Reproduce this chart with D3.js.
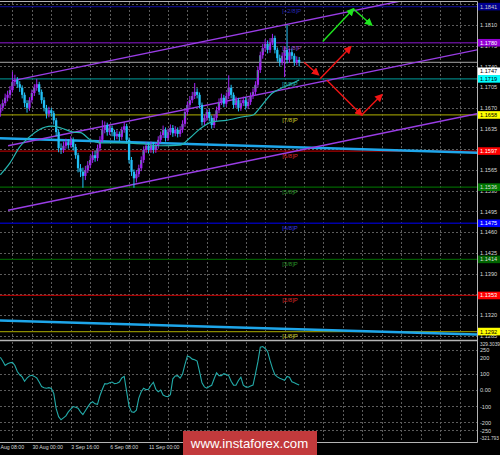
<!DOCTYPE html>
<html><head><meta charset="utf-8">
<script src="https://cdn.jsdelivr.net/npm/d3@7/dist/d3.min.js"></script>
<style>
html,body{margin:0;padding:0;background:#000;}
svg{display:block;}
text{font-family:"Liberation Sans",Arial,sans-serif;}
</style></head><body>
<svg id="chart" width="500" height="455"></svg>
<script>
// ---------- DATA ----------
const firstBar = 3;          // bar index of first visible candle (index 0 = 27 Aug 08:00, 4H bars)
const firstOpen = 1.1662;
const closes = [
1.1670,1.1678,1.1687,1.1692,1.1700,1.1714,1.1717,1.1710,1.1704,1.1692,
1.1678,1.1670,1.1683,1.1695,1.1704,1.1710,1.1697,1.1683,1.1670,1.1660,
1.1666,1.1661,1.1649,1.1629,1.1602,1.1599,1.1606,1.1612,1.1607,1.1616,
1.1604,1.1590,1.1568,1.1562,1.1555,1.1565,1.1573,1.1582,1.1590,1.1585,
1.1602,1.1616,1.1633,1.1641,1.1629,1.1636,1.1629,1.1622,1.1626,1.1621,
1.1633,1.1639,1.1616,1.1582,1.1562,1.1551,1.1558,1.1568,1.1582,1.1599,
1.1606,1.1599,1.1607,1.1599,1.1606,1.1616,1.1624,1.1633,1.1619,1.1629,
1.1636,1.1627,1.1633,1.1626,1.1633,1.1643,1.1663,1.1675,1.1683,1.1690,
1.1697,1.1692,1.1675,1.1646,1.1653,1.1663,1.1653,1.1641,1.1653,1.1666,
1.1680,1.1687,1.1677,1.1690,1.1704,1.1692,1.1675,1.1683,1.1670,1.1678,
1.1683,1.1673,1.1680,1.1690,1.1697,1.1709,1.1734,1.1759,1.1771,1.1778,
1.1768,1.1781,1.1788,1.1768,1.1754,1.1747,1.1758,1.1768,1.1751,1.1764,
1.1758,1.1747,1.1751,1.1747];
const highs = [
1.1676,1.1684,1.1694,1.1699,1.1707,1.1731,1.1726,1.1722,1.1715,1.1708,
1.1696,1.1683,1.1688,1.1701,1.1710,1.1719,1.1714,1.1701,1.1688,1.1675,
1.1672,1.1670,1.1665,1.1653,1.1634,1.1610,1.1613,1.1618,1.1617,1.1622,
1.1620,1.1609,1.1594,1.1575,1.1569,1.1572,1.1580,1.1589,1.1597,1.1598,
1.1608,1.1622,1.1649,1.1647,1.1645,1.1642,1.1640,1.1633,1.1632,1.1630,
1.1638,1.1646,1.1643,1.1620,1.1587,1.1566,1.1565,1.1574,1.1588,1.1605,
1.1612,1.1611,1.1613,1.1612,1.1611,1.1622,1.1630,1.1640,1.1637,1.1635,
1.1642,1.1641,1.1639,1.1637,1.1639,1.1649,1.1669,1.1681,1.1690,1.1697,
1.1712,1.1703,1.1696,1.1679,1.1659,1.1669,1.1668,1.1657,1.1659,1.1672,
1.1686,1.1694,1.1692,1.1696,1.1725,1.1709,1.1696,1.1689,1.1687,1.1684,
1.1689,1.1688,1.1686,1.1696,1.1703,1.1715,1.1740,1.1765,1.1778,1.1786,
1.1784,1.1788,1.1795,1.1792,1.1772,1.1760,1.1764,1.1774,1.1810,1.1770,
1.1770,1.1762,1.1757,1.1756];
const lows = [
1.1655,1.1665,1.1673,1.1681,1.1686,1.1696,1.1707,1.1704,1.1697,1.1686,
1.1671,1.1662,1.1665,1.1679,1.1690,1.1699,1.1692,1.1677,1.1664,1.1652,
1.1654,1.1655,1.1642,1.1622,1.1595,1.1592,1.1594,1.1601,1.1601,1.1603,
1.1598,1.1584,1.1561,1.1553,1.1535,1.1548,1.1560,1.1568,1.1577,1.1579,
1.1580,1.1597,1.1611,1.1627,1.1623,1.1624,1.1622,1.1615,1.1617,1.1614,
1.1616,1.1628,1.1610,1.1576,1.1555,1.1535,1.1544,1.1553,1.1563,1.1577,
1.1594,1.1593,1.1594,1.1593,1.1594,1.1601,1.1611,1.1619,1.1613,1.1614,
1.1624,1.1621,1.1622,1.1620,1.1621,1.1628,1.1638,1.1658,1.1670,1.1678,
1.1685,1.1686,1.1669,1.1640,1.1641,1.1648,1.1647,1.1635,1.1636,1.1648,
1.1661,1.1675,1.1671,1.1672,1.1685,1.1686,1.1669,1.1670,1.1664,1.1665,
1.1673,1.1667,1.1668,1.1675,1.1685,1.1692,1.1704,1.1729,1.1753,1.1765,
1.1762,1.1763,1.1776,1.1762,1.1748,1.1740,1.1742,1.1722,1.1745,1.1746,
1.1752,1.1741,1.1742,1.1740];
const cciValues = [
204,180,153,163,170,172,153,115,95,82,
55,75,88,92,85,75,50,22,15,12,
15,10,-20,-115,-165,-184,-172,-160,-135,-118,
-102,-106,-112,-135,-152,-128,-104,-82,-72,-85,
-88,-35,5,40,38,45,50,40,42,50,
75,85,-10,-100,-135,-138,-125,-50,-10,12,
3,5,30,48,5,-10,0,-31,-38,-40,
-28,70,88,90,74,100,160,212,205,192,
188,180,115,45,20,12,22,30,70,108,
90,90,102,96,90,55,31,30,60,80,
31,20,18,25,31,100,175,266,270,258,
240,184,135,95,82,74,68,61,85,80,
52,45,38,31];
// moving average trace [bar index, price]
const maPoints = [[3,1.1557],[7,1.1577],[11,1.1604],[15,1.1621],[19,1.1633],[24,1.1639],[28,1.1636],[33,1.1629],[36,1.1628],[40,1.1616],[44,1.1611],[52,1.1611],[62,1.1609],[69,1.1606],[77,1.1607],[81,1.1619],[85,1.1634],[90,1.1646],[96,1.1649],[103,1.1655],[107,1.1658],[110,1.1671],[115,1.1695],[118,1.1702],[122,1.1709],[126,1.1717]];
// thick blue trend lines [bar index, price]
const blueLineUpper = [[0,1.1619],[200,1.1594]];
const blueLineLower = [[0,1.1311],[200,1.1287]];
// purple channel lines [bar index, price]
const channelUpper = [[8.2,1.1716],[199.2,1.1877]];
const channelMiddle = [[6.2,1.1606],[199.2,1.1768]];
const channelLower = [[6.2,1.1497],[199.2,1.1660]];
// forecast arrows [[bar, price],[bar, price]]
const greenArrows = [[[135.7,1.1782],[148.3,1.1837]],[[148.3,1.1837],[155.8,1.1810]]];
const redArrows = [[[128,1.1747],[133.9,1.1726]],[[134.6,1.1719],[147.2,1.1773]],[[137.3,1.1717],[151.7,1.1658]],[[151.7,1.1658],[160,1.1692]]];
// Murray levels
const murrayLevels = [1.1292,1.1353,1.1414,1.1475,1.1536,1.1597,1.1658,1.1719,1.1780,1.1841];
const murrayNames = ["[1/8]P","[2/8]P","[3/8]P","[4/8]P","[5/8]P","[6/8]P","[7/8]P","[8/8]P","[+1/8]P","[+2/8]P"];
const murrayLabelBar = 119;
const currentPrice = 1.1747;
const priceTicks = [1.1845,1.1810,1.1775,1.1740,1.1705,1.1670,1.1635,1.1600,1.1565,1.1530,1.1495,1.1460,1.1425,1.1390,1.1355,1.1320,1.1285];
const timeTickBars = [0,16,32,48,64];
const timeTickLabels = ["27 Aug 08:00","30 Aug 00:00","3 Sep 16:00","6 Sep 08:00","11 Sep 00:00"];
const cciTicks = [329.3039,250,200,100,0,-100,-200,-250,-321.793];
const cciTickLabels = ["329.3039","250","200","100","0.00","-100","-200","-250","-321.793"];
const cciLevels = [250,100,0,-100,-200,-250];

// ---------- STYLES ----------
const murrayLine = ["#8a8a00","#a80000","#005800","#0000a8","#006400","#a80000","#8e8e00","#007f7f","#5e0f8c","#0a0a80"];
const murrayText = ["#c8c828","#d82828","#289028","#3434e0","#289028","#d82828","#c8c828","#28b0b0","#9a48c8","#2828b4"];
const boxFill = ["#ffff00","#ff0000","#006400","#0000ff","#007800","#ff0000","#ffff00","#00ffff","#9400d3","#000090"];
const boxText = ["#000","#fff","#ddd","#fff","#ddd","#fff","#000","#000","#fff","#ccc"];

// ---------- SCALES ----------
const W = 477;
const x = d3.scaleLinear().domain([0,200]).range([-7,479]);
const y = d3.scaleLinear().domain([1.1810,1.1320]).range([25,315]);
const yc = d3.scaleLinear().domain([329.3039,-321.793]).range([337,442]);

const svg = d3.select("#chart");
svg.append("rect").attr("width",500).attr("height",455).attr("fill","#000");

const defs = svg.append("defs");
defs.append("clipPath").attr("id","mainClip").append("rect").attr("x",0).attr("y",2).attr("width",W).attr("height",337);
defs.append("clipPath").attr("id","cciClip").append("rect").attr("x",0).attr("y",341.5).attr("width",W).attr("height",100);
function marker(id,color){
  defs.append("marker").attr("id",id).attr("viewBox","0 0 10 10").attr("refX",8).attr("refY",5)
    .attr("markerWidth",8).attr("markerHeight",8).attr("markerUnits","userSpaceOnUse").attr("orient","auto")
    .append("path").attr("d","M0,0 L10,5 L0,10 z").attr("fill",color);
}
marker("ahRed","#f01414");
marker("ahGreen","#1ee61e");

const gridColor = "#5c5c5c";
const main = svg.append("g").attr("clip-path","url(#mainClip)");
const vGrid = d3.range(0,200,8);

// grid
main.selectAll(".vg").data(vGrid).join("line")
  .attr("x1",d=>Math.round(x(d))+0.5).attr("x2",d=>Math.round(x(d))+0.5)
  .attr("y1",2).attr("y2",339).attr("stroke",gridColor).attr("stroke-dasharray","2,2");
main.selectAll(".hg").data(priceTicks).join("line")
  .attr("x1",0).attr("x2",W).attr("y1",d=>Math.round(y(d))+0.5).attr("y2",d=>Math.round(y(d))+0.5)
  .attr("stroke",gridColor).attr("stroke-dasharray","2,2");

// murray lines
main.selectAll(".ml").data(murrayLevels).join("line")
  .attr("x1",0).attr("x2",W).attr("y1",d=>y(d)).attr("y2",d=>y(d))
  .attr("stroke",(d,i)=>murrayLine[i]).attr("stroke-width",1.3);

// current price line
main.append("line").attr("x1",0).attr("x2",W).attr("y1",y(currentPrice)).attr("y2",y(currentPrice))
  .attr("stroke","#a8a8a8").attr("stroke-width",1);

const line = d3.line().x(d=>x(d[0])).y(d=>y(d[1]));
// thick blue lines
[blueLineUpper,blueLineLower].forEach(pts=>{
  main.append("path").attr("d",line(pts)).attr("fill","none").attr("stroke","#1ea6ea").attr("stroke-width",2.6);
});
// channel
[channelUpper,channelMiddle,channelLower].forEach(pts=>{
  main.append("path").attr("d",line(pts)).attr("fill","none").attr("stroke","#9a3de6").attr("stroke-width",1.4);
});

// candles
const bars = closes.map((c,k)=>({i:firstBar+k,o:k===0?firstOpen:closes[k-1],h:highs[k],l:lows[k],c}));
const purple="#a024f0", blue="#22c0f5", green="#1ed24a";
const cg = main.append("g");
bars.forEach(b=>{
  const cx = x(b.i);
  const up = b.c>=b.o;
  const col = up?purple:blue;
  cg.append("rect").attr("x",cx-0.5).attr("width",1).attr("y",y(b.h)).attr("height",Math.max(0.5,y(b.l)-y(b.h))).attr("fill",col);
  const top = y(Math.max(b.o,b.c)), bot = y(Math.min(b.o,b.c));
  cg.append("rect").attr("x",cx-1.15).attr("width",2.3).attr("y",top).attr("height",Math.max(0.8,bot-top)).attr("fill",col);
  if(up && bot-top>4){
    cg.append("rect").attr("x",cx-0.9).attr("width",0.8).attr("y",top+0.6).attr("height",(bot-top)*0.45).attr("fill",green).attr("opacity",0.85);
  }
});

// moving average
main.append("path").attr("d",d3.line().x(d=>x(d[0])).y(d=>y(d[1])).curve(d3.curveMonotoneX)(maPoints))
  .attr("fill","none").attr("stroke","#26b5b0").attr("stroke-width",1.2);

// murray labels
main.selectAll(".mt").data(murrayLevels).join("text")
  .attr("x",x(murrayLabelBar)).attr("y",d=>y(d)+6.8).text((d,i)=>murrayNames[i])
  .attr("font-size",6).attr("fill",(d,i)=>murrayText[i]);

// arrows
greenArrows.forEach(a=>{
  main.append("path").attr("d",line(a)).attr("stroke","#1ee61e").attr("stroke-width",1.4).attr("fill","none").attr("marker-end","url(#ahGreen)");
});
redArrows.forEach(a=>{
  main.append("path").attr("d",line(a)).attr("stroke","#f01414").attr("stroke-width",1.4).attr("fill","none").attr("marker-end","url(#ahRed)");
});

// ---------- PRICE AXIS ----------
const pAxis = svg.append("g").attr("transform",`translate(${W},0)`)
  .call(d3.axisRight(y).tickValues(priceTicks.slice(1)).tickSize(0).tickPadding(3).tickFormat(d3.format(".4f")));
pAxis.select(".domain").remove();
pAxis.selectAll("text").attr("fill","#d8d8d8").attr("font-size",5.6).attr("font-family","'Liberation Sans',Arial,sans-serif");

// level boxes
const boxG = svg.append("g");
murrayLevels.forEach((lv,i)=>{
  const cy = y(lv);
  boxG.append("rect").attr("x",W+0.5).attr("y",cy-3.8).attr("width",500-W).attr("height",7.6).attr("fill",boxFill[i]);
  boxG.append("text").attr("x",W+3).attr("y",cy+2).text(d3.format(".4f")(lv)).attr("font-size",5.6).attr("fill",boxText[i]);
});
{
  const cy = y(currentPrice)+9;
  boxG.append("rect").attr("x",W+0.5).attr("y",cy-3.8).attr("width",500-W).attr("height",7.6).attr("fill","#ffffff");
  boxG.append("text").attr("x",W+3).attr("y",cy+2).text(d3.format(".4f")(currentPrice)).attr("font-size",5.6).attr("fill","#000");
}

// ---------- CCI PANE ----------
const cci = svg.append("g").attr("clip-path","url(#cciClip)");
cci.selectAll(".vg").data(vGrid).join("line")
  .attr("x1",d=>Math.round(x(d))+0.5).attr("x2",d=>Math.round(x(d))+0.5)
  .attr("y1",342).attr("y2",441).attr("stroke",gridColor).attr("stroke-dasharray","2,2");
cci.selectAll(".hg").data(cciLevels).join("line")
  .attr("x1",0).attr("x2",W).attr("y1",d=>Math.round(yc(d))+0.5).attr("y2",d=>Math.round(yc(d))+0.5)
  .attr("stroke",gridColor).attr("stroke-dasharray","2,2");
cci.append("path").datum(cciValues)
  .attr("d",d3.line().x((d,k)=>x(firstBar+k)).y(d=>yc(d)))
  .attr("fill","none").attr("stroke","#23aaa8").attr("stroke-width",1.1);

const cAxis = svg.append("g").attr("transform",`translate(${W},0)`)
  .call(d3.axisRight(yc).tickValues(cciTicks).tickSize(0).tickPadding(3).tickFormat((d,i)=>cciTickLabels[i]));
cAxis.select(".domain").remove();
cAxis.selectAll("text").attr("fill","#d8d8d8").attr("font-size",5.6).attr("font-family","'Liberation Sans',Arial,sans-serif");
cAxis.selectAll(".tick").filter(d=>d===329.3039).attr("transform",`translate(0,${yc(329.3039)+7})`)
  .select("text").attr("font-size",4.8);
cAxis.selectAll(".tick").filter(d=>d===-321.793).attr("transform",`translate(0,${yc(-321.793)-4})`)
  .select("text").attr("font-size",4.8);

// ---------- TIME AXIS ----------
const tAxis = svg.append("g").attr("transform","translate(0,443)")
  .call(d3.axisBottom(x).tickValues(timeTickBars).tickSize(0).tickPadding(2).tickFormat((d,i)=>timeTickLabels[i]));
tAxis.select(".domain").remove();
tAxis.selectAll("text").attr("text-anchor","start").attr("fill","#d8d8d8").attr("font-size",5.2).attr("font-family","'Liberation Sans',Arial,sans-serif");

// ---------- FRAME ----------
const frame = svg.append("g").attr("stroke","#b4b4b4").attr("fill","none");
frame.append("line").attr("x1",0).attr("x2",W+0.5).attr("y1",1.5).attr("y2",1.5);
frame.append("line").attr("x1",W+0.5).attr("x2",W+0.5).attr("y1",1.5).attr("y2",442.5);
frame.append("line").attr("x1",0).attr("x2",W+0.5).attr("y1",340.5).attr("y2",340.5).attr("stroke-width",1.6);
frame.append("line").attr("x1",0).attr("x2",W+0.5).attr("y1",442.5).attr("y2",442.5);

// ---------- WATERMARK ----------
svg.append("rect").attr("x",183).attr("y",431).attr("width",134).attr("height",24).attr("fill","#c23a3c");
svg.append("text").attr("x",249.5).attr("y",447.5).attr("text-anchor","middle").attr("font-size",13.2)
  .attr("fill","#ffffff").text("www.instaforex.com");
</script>
</body></html>
